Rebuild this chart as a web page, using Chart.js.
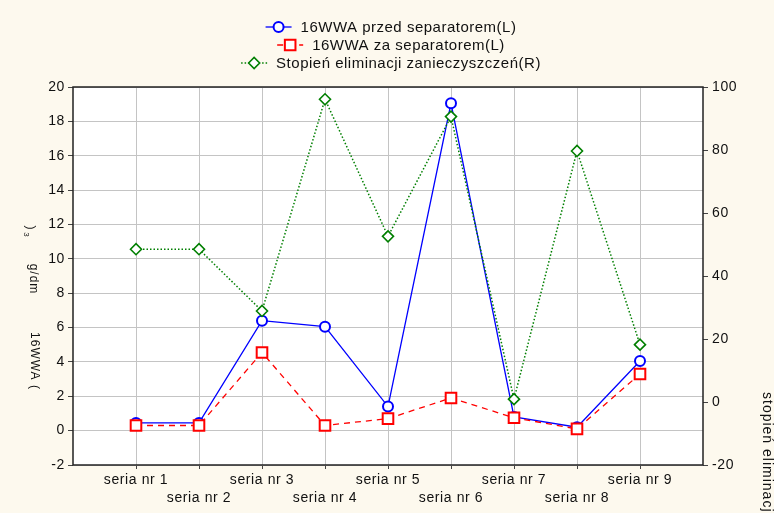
<!DOCTYPE html>
<html>
<head>
<meta charset="utf-8">
<script src="https://cdn.jsdelivr.net/npm/chart.js@4/dist/chart.umd.min.js"></script>
<style>
  body { margin: 0; background: #fdf9ee; }
  canvas { display: block; }
</style>
</head>
<body>
<canvas id="chart" width="774" height="513"></canvas>
<script>
const categories = ['seria nr 1', 'seria nr 2', 'seria nr 3', 'seria nr 4', 'seria nr 5',
                    'seria nr 6', 'seria nr 7', 'seria nr 8', 'seria nr 9'];
const przedSeparatorem = [0.45, 0.45, 6.4, 6.05, 1.4, 19.05, 0.8, 0.2, 4.05];
const zaSeparatorem = [0.3, 0.3, 4.55, 0.3, 0.7, 1.9, 0.75, 0.1, 3.3];
const stopienEliminacji = [48.5, 48.5, 28.9, 96.1, 52.6, 90.6, 0.9, 79.7, 18.2];
const legendLabels = ['16WWA przed separatorem(L)', '16WWA za separatorem(L)', 'Stopień eliminacji zanieczyszczeń(R)'];
const leftRange = { min: -2, max: 20, step: 2 };
const rightRange = { min: -20, max: 100, step: 20 };

const FONT = '"Liberation Sans", Arial, sans-serif';

function points(values) {
    return values.map((v, i) => ({ x: i + 1, y: v }));
}

// background, plot frame, axis titles and legend
const framePlugin = {
    id: 'frame',
    beforeLayout(chart) {
        chart.ctx.letterSpacing = '0.6px';
    },
    beforeDraw(chart) {
        const { ctx, chartArea: a } = chart;
        ctx.save();
        ctx.fillStyle = '#fdf9ee';
        ctx.fillRect(0, 0, chart.width, chart.height);
        ctx.fillStyle = '#ffffff';
        ctx.fillRect(a.left, a.top, a.right - a.left, a.bottom - a.top);
        ctx.restore();
        ctx.letterSpacing = '0.6px';
    },
    beforeDatasetsDraw(chart) {
        const { ctx, chartArea: a } = chart;
        ctx.save();
        ctx.strokeStyle = '#222';
        ctx.lineWidth = 1.5;
        ctx.strokeRect(a.left, a.top, a.right - a.left, a.bottom - a.top);
        ctx.restore();
    },
    afterDraw(chart) {
        const ctx = chart.ctx;
        ctx.save();
        ctx.fillStyle = '#111';
        ctx.textBaseline = 'middle';
        ctx.textAlign = 'center';

        const rot = (txt, x, y, size, align) => {
            ctx.save();
            ctx.translate(x, y);
            ctx.rotate(Math.PI / 2);
            ctx.font = size + 'px ' + FONT;
            ctx.textAlign = align || 'center';
            ctx.fillText(txt, 0, 0);
            ctx.restore();
        };
        // left axis title, drawn in pieces like the original
        ctx.letterSpacing = '1px';
        rot('16WWA (', 34, 361, 12);
        rot('g/dm', 33, 279, 12);
        rot(')', 30, 228, 12);
        rot('3', 26, 235, 8);
        rot('stopień eliminacji zanieczyszczeń (%)', 767, 392, 14, 'left');

        // legend
        ctx.font = '15px ' + FONT;
        ctx.letterSpacing = '0.5px';
        const rowsY = [27, 45, 63];
        const centerX = 391;
        chart.data.datasets.forEach((ds, i) => {
            const label = legendLabels[i];
            const tw = ctx.measureText(label).width;
            const sw = 26, gap = 9;
            const x0 = centerX - (sw + gap + tw) / 2;
            const y = rowsY[i];
            ctx.save();
            ctx.strokeStyle = ds.borderColor;
            ctx.lineWidth = ds.borderWidth;
            ctx.setLineDash(ds.borderDash || []);
            ctx.beginPath();
            ctx.moveTo(x0, y);
            ctx.lineTo(x0 + sw, y);
            ctx.stroke();
            ctx.setLineDash([]);
            ctx.fillStyle = '#fff';
            ctx.lineWidth = ds.pointBorderWidth;
            const mx = x0 + sw / 2, r = ds.pointRadius;
            ctx.beginPath();
            if (ds.pointStyle === 'circle') {
                ctx.arc(mx, y, r, 0, Math.PI * 2);
            } else if (ds.pointStyle === 'rect') {
                const s = r * Math.SQRT1_2;
                ctx.rect(mx - s, y - s, 2 * s, 2 * s);
            } else {
                ctx.moveTo(mx - r, y);
                ctx.lineTo(mx, y - r);
                ctx.lineTo(mx + r, y);
                ctx.lineTo(mx, y + r);
                ctx.closePath();
            }
            ctx.fill();
            ctx.stroke();
            ctx.restore();
            ctx.textAlign = 'left';
            ctx.fillStyle = '#111';
            ctx.fillText(label, x0 + sw + gap, y + 1);
        });
        ctx.restore();
        ctx.letterSpacing = '0.6px';
    }
};

const tickFont = { family: FONT, size: 14 };

new Chart(document.getElementById('chart'), {
    type: 'line',
    data: {
        datasets: [
            {
                label: legendLabels[0],
                data: points(przedSeparatorem),
                yAxisID: 'yLeft',
                borderColor: '#0000ff',
                borderWidth: 1.3,
                pointStyle: 'circle',
                pointRadius: 5,
                pointBorderWidth: 2,
                pointBackgroundColor: '#ffffff',
                pointBorderColor: '#0000ff',
                order: 3
            },
            {
                label: legendLabels[1],
                data: points(zaSeparatorem),
                yAxisID: 'yLeft',
                borderColor: '#ff0000',
                borderWidth: 1.3,
                borderDash: [6, 5],
                pointStyle: 'rect',
                pointRadius: 7.5,
                pointBorderWidth: 2,
                pointBackgroundColor: '#ffffff',
                pointBorderColor: '#ff0000',
                order: 2
            },
            {
                label: legendLabels[2],
                data: points(stopienEliminacji),
                yAxisID: 'yRight',
                borderColor: '#007f00',
                borderWidth: 1.5,
                borderDash: [1.5, 2],
                pointStyle: 'rectRot',
                pointRadius: 5.5,
                pointBorderWidth: 1.6,
                pointBackgroundColor: '#ffffff',
                pointBorderColor: '#007f00',
                order: 1
            }
        ]
    },
    options: {
        responsive: false,
        animation: false,
        layout: { padding: { top: 87, left: 0, right: 0, bottom: 0 } },
        plugins: {
            legend: { display: false },
            tooltip: { enabled: false }
        },
        scales: {
            x: {
                type: 'linear',
                min: 0,
                max: 10,
                afterFit(scale) { scale.height = 48; },
                afterBuildTicks(scale) {
                    scale.ticks = scale.ticks.filter(t => t.value >= 1 && t.value <= 9);
                },
                border: { display: false },
                grid: { color: '#c4c4c4', tickColor: '#444', tickLength: 4, lineWidth: 1 },
                ticks: {
                    stepSize: 1,
                    autoSkip: false,
                    maxRotation: 0,
                    padding: 2,
                    color: '#111',
                    font: { family: FONT, size: 14, lineHeight: 1.3 },
                    callback(value) {
                        const label = categories[value - 1];
                        if (!label) return '';
                        return value % 2 === 0 ? ['', label] : label;
                    }
                }
            },
            yLeft: {
                position: 'left',
                min: leftRange.min,
                max: leftRange.max,
                afterFit(scale) { scale.width = 73; },
                border: { display: false },
                grid: { color: '#c4c4c4', tickColor: '#444', tickLength: 5 },
                ticks: { stepSize: leftRange.step, padding: 3, color: '#111', font: tickFont }
            },
            yRight: {
                position: 'right',
                min: rightRange.min,
                max: rightRange.max,
                afterFit(scale) { scale.width = 71; },
                border: { display: false },
                grid: { drawOnChartArea: false, tickColor: '#444', tickLength: 5 },
                ticks: { stepSize: rightRange.step, padding: 4, color: '#111', font: tickFont }
            }
        }
    },
    plugins: [framePlugin]
});
</script>
</body>
</html>
